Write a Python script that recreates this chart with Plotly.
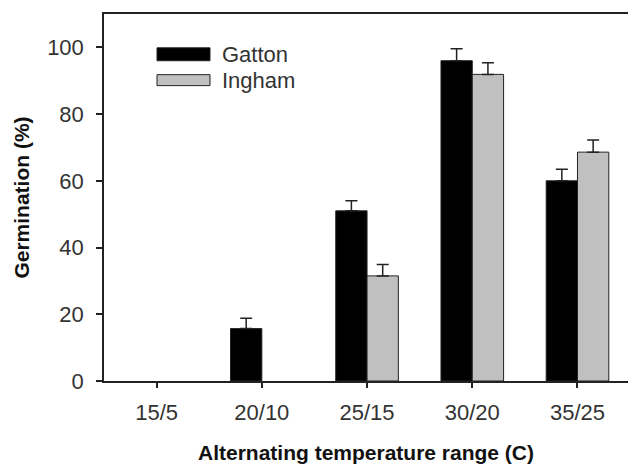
import plotly.graph_objects as go

categories = ["15/5", "20/10", "25/15", "30/20", "35/25"]
gatton = [0, 15.7, 51.0, 96.0, 60.0]
gatton_err = [0, 3.1, 3.0, 3.6, 3.5]
ingham = [0, 0, 31.5, 91.9, 68.6]
ingham_err = [0, 0, 3.4, 3.5, 3.6]
series_names = ["Gatton", "Ingham"]
y_ticks = [0, 20, 40, 60, 80, 100]

FONT = "Liberation Sans, Arial, sans-serif"
x_idx = list(range(len(categories)))


def bar_trace(vals, errs, name, fill):
    return go.Bar(
        x=x_idx, y=[v if v > 0 else None for v in vals], name=name,
        marker=dict(color=fill, line=dict(color="#222222", width=1)),
        error_y=dict(type="data", array=[e if v > 0 else None for v, e in zip(vals, errs)],
                     arrayminus=[0 if v > 0 else None for v in vals], symmetric=False,
                     color="#222222", thickness=1.5, width=6, visible=True),
        showlegend=False,
    )


fig = go.Figure()
fig.add_trace(bar_trace(gatton, gatton_err, series_names[0], "#000000"))
fig.add_trace(bar_trace(ingham, ingham_err, series_names[1], "#c0c0c0"))

# legend drawn as swatches + text (paper coordinates)
PW, PH = 524, 369
fig.add_shape(type="rect", xref="paper", yref="paper",
              x0=(157 - 104) / PW, x1=(210 - 104) / PW,
              y0=(383 - 61) / PH, y1=(383 - 48) / PH,
              fillcolor="#000000", line=dict(color="#222222", width=1))
fig.add_shape(type="rect", xref="paper", yref="paper",
              x0=(157 - 104) / PW, x1=(210 - 104) / PW,
              y0=(383 - 86) / PH, y1=(383 - 75) / PH,
              fillcolor="#c0c0c0", line=dict(color="#222222", width=1))
fig.add_annotation(xref="paper", yref="paper", x=(220 - 104) / PW, y=(383 - 55) / PH,
                   text=series_names[0], showarrow=False, xanchor="left", yanchor="middle",
                   font=dict(family=FONT, size=22, color="#333333"))
fig.add_annotation(xref="paper", yref="paper", x=(220 - 104) / PW, y=(383 - 81) / PH,
                   text=series_names[1], showarrow=False, xanchor="left", yanchor="middle",
                   font=dict(family=FONT, size=22, color="#333333"))

fig.update_layout(
    width=628, height=464,
    margin=dict(l=104, r=0, t=14, b=81),
    plot_bgcolor="white", paper_bgcolor="white",
    barmode="group", bargap=0.405, bargroupgap=0,
    font=dict(family=FONT, color="#222222"),
)
fig.update_xaxes(
    range=[-0.5, 4.48], tickmode="array", tickvals=x_idx, ticktext=categories,
    showline=True, linecolor="#222222", linewidth=1.5, mirror=True,
    ticks="outside", ticklen=5, tickcolor="#222222", tickwidth=1.5,
    tickfont=dict(family=FONT, size=22, color="#333333"),
    ticklabelstandoff=6,
    showgrid=False, zeroline=False,
    title=dict(text="<b>Alternating temperature range (C)</b>",
               font=dict(family=FONT, size=21, color="#111111"), standoff=24),
)
fig.update_yaxes(
    range=[0, 110], tickmode="array", tickvals=y_ticks,
    showline=True, linecolor="#222222", linewidth=1.5,
    ticks="outside", ticklen=6, tickcolor="#222222", tickwidth=1.5,
    tickfont=dict(family=FONT, size=22, color="#333333"),
    ticklabelstandoff=8,
    showgrid=False, zeroline=False,
    title=dict(text="<b>Germination (%)</b>",
               font=dict(family=FONT, size=21, color="#111111"), standoff=12),
)

fig.write_html("out.html")
